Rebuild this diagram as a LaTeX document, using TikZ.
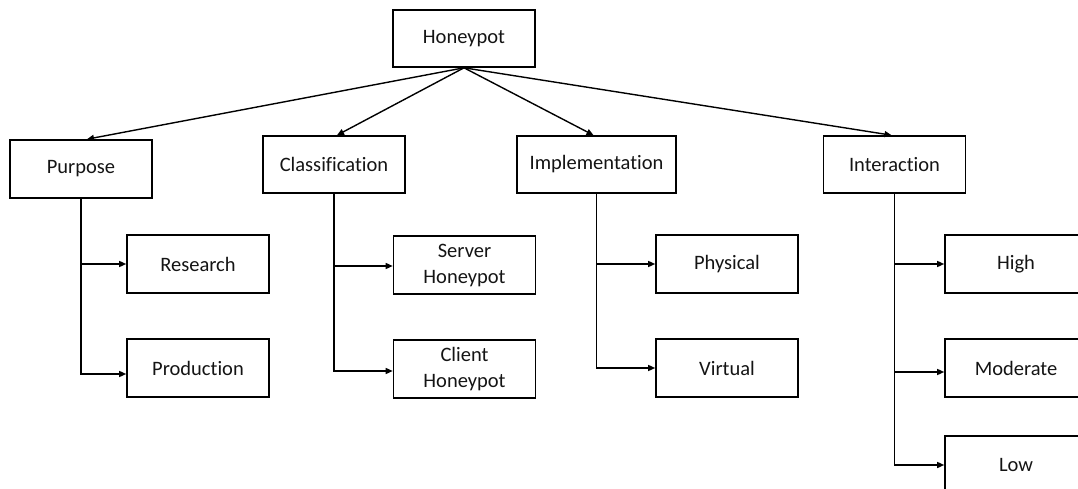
\documentclass[tikz,border=0pt]{standalone}
\usepackage{fontspec}
\setmainfont{Carlito}[Ligatures=CommonOff]
\usetikzlibrary{arrows.meta,calc}
\tikzset{
  box/.style={draw=black, line width=1.6pt, inner sep=0pt, minimum height=57pt,
    minimum width=142pt, align=center, text=black!92,
    font=\fontsize{20.5}{26}\selectfont},
  arr/.style={line width=1.4pt, -{Triangle[length=7pt,width=6pt]}}
}
\begin{document}
\begin{tikzpicture}[x=1pt,y=-1pt]
\useasboundingbox (0,0) rectangle (1078,489);
\clip (0,0) rectangle (1078,489);
% top
\node[box] (hp) at (464,38.5) {Honeypot};
% level 1
\node[box, minimum height=58pt] (pur) at (81,169) {Purpose};
\node[box] (cla) at (334,164.5) {Classification};
\node[box, minimum width=159pt] (imp) at (596.5,164.5) {Implementation};
\node[box] (int) at (894.5,164.5) {Interaction};
% level 2
\node[box, minimum height=58pt] (res) at (198,264) {Research};
\node[box, minimum height=58pt] (pro) at (198,368) {Production};
\node[box, minimum height=58pt] (srv) at (464.5,265) {Server\\Honeypot};
\node[box, minimum height=58pt] (cli) at (464.5,369) {Client\\Honeypot};
\node[box, minimum height=58pt] (phy) at (727,264) {Physical};
\node[box, minimum height=58pt] (vir) at (727,368) {Virtual};
\node[box, minimum height=58pt] (hig) at (1016,264) {High};
\node[box, minimum height=58pt] (mod) at (1016,368) {Moderate};
\node[box, minimum height=58pt] (low) at (1016,465) {Low};
% top arrows
\draw[arr] (hp.south) -- ([xshift=6pt]pur.north);
\draw[arr] (hp.south) -- ([xshift=3pt]cla.north);
\draw[arr] (hp.south) -- ([xshift=-3pt]imp.north);
\draw[arr] (hp.south) -- ([xshift=-3pt]int.north);
% branches
\draw[arr] (pur.south) |- (res.west);
\draw[arr] (pur.south) |- ([yshift=-6pt]pro.west);
\draw[arr] (cla.south) |- ([yshift=-1pt]srv.west);
\draw[arr] (cla.south) |- ([yshift=-2pt]cli.west);
\draw[arr] (imp.south) |- (phy.west);
\draw[arr] (imp.south) |- (vir.west);
\draw[arr] (int.south) |- (hig.west);
\draw[arr] (int.south) |- ([yshift=-4pt]mod.west);
\draw[arr] (int.south) |- (low.west);
\end{tikzpicture}
\end{document}
